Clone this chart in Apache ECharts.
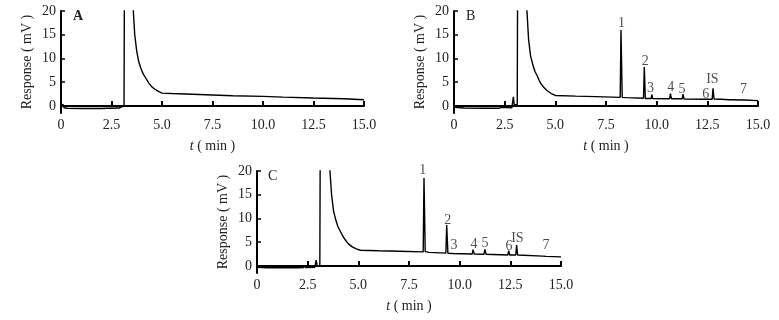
<!DOCTYPE html>
<html>
<head>
<meta charset="utf-8">
<script src="https://cdn.jsdelivr.net/npm/echarts@6/dist/echarts.min.js"></script>
<style>
html, body { margin: 0; padding: 0; background: #fff; }
#container { width: 779px; height: 320px; }
</style>
</head>
<body>
<div id="container"></div>
<script>
// chromatogram traces: [t (min), response (mV)]
var traceA = [[0,0.2],[0.05,-0.1],[0.1,0.3],[0.15,-0.4],[0.3,-0.5],[1.0,-0.55],[2.0,-0.55],[2.3,-0.5],[2.35,-0.1],[2.4,-0.5],[2.9,-0.45],[3.0,-0.2],[3.12,-0.1],[3.15,40],[3.5,30],[3.58,20],[3.65,15],[3.75,11.5],[3.85,9.3],[3.95,8],[4.05,6.9],[4.12,6.4],[4.18,6.2],[4.25,5.5],[4.35,4.8],[4.5,4],[4.65,3.5],[4.8,3.1],[5.0,2.7],[5.5,2.6],[6.5,2.45],[7.5,2.3],[8.5,2.15],[10,2.0],[11,1.85],[12.5,1.65],[14,1.5],[15,1.3]];

var traceB = [[0,-0.3],[0.5,-0.45],[1.5,-0.5],[2.2,-0.5],[2.35,-0.3],[2.4,-0.45],[2.85,-0.4],[2.93,1.9],[2.97,0.2],[3.05,0.3],[3.12,0.3],[3.15,40],[3.5,30],[3.6,20],[3.68,14],[3.78,10.5],[3.9,8.5],[4.0,7.2],[4.1,6.4],[4.15,6.0],[4.2,5.4],[4.3,4.6],[4.45,3.8],[4.6,3.2],[4.8,2.6],[5.0,2.2],[6,2.05],[7,1.95],[8.2,1.8],[8.24,16],[8.3,1.8],[8.5,1.75],[9.35,1.6],[9.39,8.2],[9.44,1.55],[9.73,1.55],[9.76,2.4],[9.8,1.55],[10.64,1.5],[10.68,2.6],[10.73,1.5],[11.26,1.5],[11.3,2.5],[11.35,1.45],[12.45,1.4],[12.5,1.7],[12.55,1.4],[12.74,1.4],[12.78,3.7],[12.83,1.45],[13.1,1.4],[13.13,1.8],[13.2,1.4],[13.55,1.3],[13.6,1.6],[13.65,1.3],[14.25,1.25],[14.3,1.5],[14.35,1.25],[15,1.1]];

var traceC = [[0,-0.3],[0.5,-0.4],[2.0,-0.4],[2.3,-0.35],[2.35,0.1],[2.4,-0.35],[2.85,-0.3],[2.92,1.2],[2.97,0],[3.1,0],[3.13,40],[3.5,30],[3.6,20],[3.68,15],[3.78,11.5],[3.9,9.5],[4.0,8.2],[4.1,7.4],[4.17,7.2],[4.23,6.3],[4.35,5.5],[4.5,4.7],[4.7,4.0],[4.9,3.6],[5.1,3.3],[6,3.2],[7,3.1],[8.2,2.95],[8.24,18.5],[8.3,3.0],[8.5,2.85],[9.32,2.7],[9.36,8.6],[9.42,2.65],[9.66,2.6],[9.7,2.9],[9.74,2.6],[10.62,2.5],[10.66,3.4],[10.72,2.5],[11.2,2.45],[11.24,3.5],[11.3,2.45],[12.38,2.3],[12.42,3.2],[12.47,2.3],[12.77,2.3],[12.81,4.4],[12.86,2.3],[14.1,2.05],[14.13,2.4],[14.17,2.05],[14.27,2.0],[14.3,2.4],[14.34,2.0],[15,1.9]];

// peak labels: [t, response, text]
var peaksB = [[8.26,17.5,'1'],[9.44,9.4,'2'],[9.69,3.7,'3'],[10.69,4.0,'4'],[11.25,3.5,'5'],[12.42,2.5,'6'],[12.75,5.6,'IS'],[14.29,3.5,'7']];
var peaksC = [[8.18,20.2,'1'],[9.41,9.6,'2'],[9.72,4.4,'3'],[10.71,4.6,'4'],[11.25,4.8,'5'],[12.44,4.2,'6'],[12.85,5.9,'IS'],[14.26,4.4,'7']];

var yTicks = [0, 5, 10, 15, 20];
var xMin = 0, xMax = 15, xStep = 2.5;
var yMin = -1.5, yMax = 20;

var dom = document.getElementById("container");
var myChart = echarts.init(dom);
var serif = '"Liberation Serif", "DejaVu Serif", serif';

function makeX(i) {
	return {
		type: 'value', gridIndex: i, min: xMin, max: xMax, interval: xStep,
		name: '{i|t} ( min )', nameLocation: 'middle', nameGap: 26,
		nameTextStyle: { fontFamily: serif, fontSize: 14, color: '#222', rich: { i: { fontStyle: 'italic', fontFamily: serif, fontSize: 14, color: '#222' } } },
		axisLine: { lineStyle: { color: '#000', width: 2 } },
		axisTick: { inside: true, length: 5, lineStyle: { color: '#000', width: 2 } },
		axisLabel: { fontFamily: serif, fontSize: 14, color: '#222', margin: 5,
			formatter: function (v) { return v === 0 ? '0' : v.toFixed(1); } },
		splitLine: { show: false }
	};
}

function makeY(i) {
	return {
		type: 'value', gridIndex: i, min: yMin, max: yMax,
		name: 'Response ( mV )', nameLocation: 'middle', nameGap: 27,
		nameTextStyle: { fontFamily: serif, fontSize: 14, color: '#222' },
		axisLine: { lineStyle: { color: '#000', width: 2 } },
		axisTick: { inside: true, length: 4, customValues: yTicks, lineStyle: { color: '#000', width: 1.5 } },
		axisLabel: { fontFamily: serif, fontSize: 14, color: '#222', margin: 5, customValues: yTicks },
		splitLine: { show: false }
	};
}

function traceSeries(i, data) {
	return {
		type: 'line', xAxisIndex: i, yAxisIndex: i, data: data,
		showSymbol: false, symbol: 'none', animation: false, clip: true,
		lineStyle: { color: '#000', width: 1.4 }
	};
}

function labelSeries(i, peaks) {
	return {
		type: 'scatter', xAxisIndex: i, yAxisIndex: i, clip: false, animation: false,
		symbolSize: 0, silent: true,
		data: peaks.map(function (p) { return { value: [p[0], p[1]], name: p[2] }; }),
		label: { show: true, position: 'inside', formatter: '{b}',
			fontFamily: serif, fontSize: 14, color: '#222' }
	};
}

var option = {
	backgroundColor: '#fff',
	animation: false,
	grid: [
		{ left: 61, top: 11, width: 303, height: 102 },
		{ left: 454, top: 11, width: 304, height: 102 },
		{ left: 257, top: 171, width: 304, height: 102 }
	],
	xAxis: [makeX(0), makeX(1), makeX(2)],
	yAxis: [makeY(0), makeY(1), makeY(2)],
	graphic: [
		{ type: 'text', left: 73, top: 9, style: { text: 'A', font: 'bold 14px ' + serif, fill: '#222' } },
		{ type: 'text', left: 466, top: 9, style: { text: 'B', font: '14px ' + serif, fill: '#222' } },
		{ type: 'text', left: 268, top: 169, style: { text: 'C', font: '14px ' + serif, fill: '#222' } }
	],
	series: [
		traceSeries(0, traceA),
		traceSeries(1, traceB),
		traceSeries(2, traceC),
		labelSeries(1, peaksB),
		labelSeries(2, peaksC)
	]
};

myChart.setOption(option, true);
</script>
</body>
</html>
